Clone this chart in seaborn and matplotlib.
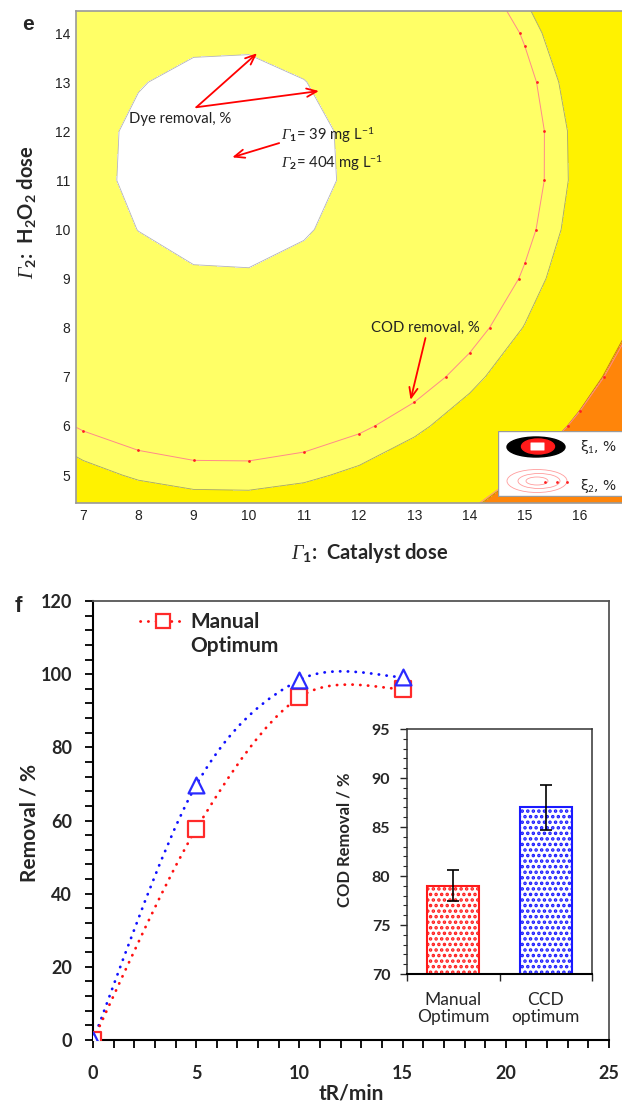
import numpy as np
import matplotlib
matplotlib.use("Agg")
import matplotlib.pyplot as plt
import seaborn as sns
from matplotlib.path import Path
from matplotlib.patches import PathPatch, Ellipse, Rectangle, FancyBboxPatch
from matplotlib.lines import Line2D

sns.set_theme(style="white")
plt.rcParams.update({
    "font.family": ["Lato", "DejaVu Sans"],
    "mathtext.fontset": "custom",
    "mathtext.rm": "Lato",
    "mathtext.bf": "Lato:bold",
    "mathtext.it": "Liberation Serif:italic",
    "mathtext.cal": "Liberation Serif:italic",
    "mathtext.sf": "Lato",
    "hatch.linewidth": 1.7,
})

# ---------------- panel e: response surfaces over the design grid ----------------
catalyst_grid = np.arange(6, 19)      # Γ1 grid nodes
h2o2_grid = np.arange(3, 17)          # Γ2 grid nodes
# quadratic response models: peak value, optimum (Γ1, Γ2), curvature (Γ1, Γ2)
dye_peak, dye_opt, dye_curv = 96.9, (9.6, 11.4), (0.438, 0.372)
cod_peak, cod_opt, cod_curv = 95.9, (9.56, 11.52), (0.3205, 0.2775)
dye_levels = [0, 69.3, 80, 95, 100]
dye_fill = ["#ff850a", "#fff200", "#ffff66", "#ffffff"]
cod_levels = [75, 85]
e_xticks = list(range(7, 17))
e_yticks = list(range(5, 15))

# ---------------- panel f: removal kinetics and COD removal ----------------
time_min = [0, 5, 10, 15]
manual_removal = [0, 57.7, 93.7, 96.0]
ccd_removal = [0, 69.7, 98.4, 99.2]
cod_labels = ["Manual\nOptimum", "CCD\noptimum"]
cod_values = [79.0, 87.0]
cod_errors = [1.6, 2.3]
cod_colors = ["#ff1a1a", "#1a1aff"]

W, H = 622, 1106
fig = plt.figure(figsize=(W / 100, H / 100), dpi=100)


def frac(x0, y0, x1, y1):
    return [x0 / W, 1 - y1 / H, (x1 - x0) / W, (y1 - y0) / H]


GAMMA = r"$\mathcal{Γ}$"

# ======================= panel e =======================
ax = fig.add_axes(frac(76, 11, 622, 503))
G1, G2 = np.meshgrid(catalyst_grid, h2o2_grid)
dye = dye_peak - dye_curv[0] * (G1 - dye_opt[0]) ** 2 - dye_curv[1] * (G2 - dye_opt[1]) ** 2
cod = cod_peak - cod_curv[0] * (G1 - cod_opt[0]) ** 2 - cod_curv[1] * (G2 - cod_opt[1]) ** 2

ax.contourf(G1, G2, dye, levels=dye_levels, colors=dye_fill)
ax.contour(G1, G2, dye, levels=dye_levels[1:4],
           colors=["#c06a20", "#a3a36a", "#b4b4b4"], linewidths=0.6)
cs = ax.contour(G1, G2, cod, levels=cod_levels, colors="#ff8a8a", linewidths=0.7)
for p in cs.get_paths():
    v = p.vertices
    ax.plot(v[:, 0], v[:, 1], ls="none", marker="o", ms=2.0, color="#ff2020", mew=0)

ax.set_xlim(6.87, 16.76)
ax.set_ylim(4.43, 14.45)
ax.set_xticks(e_xticks)
ax.set_yticks(e_yticks)
ax.tick_params(direction="in", length=4, width=0.8, color="#444444", top=True,
               labelsize=10, pad=4, labelcolor="#222222")
for lbl in ax.get_xticklabels() + ax.get_yticklabels():
    lbl.set_fontfamily("Liberation Sans")
for sp in ax.spines.values():
    sp.set_color("#9a9a9a")
    sp.set_linewidth(1.2)
ax.spines["right"].set_visible(False)

arrow = dict(arrowstyle="->,head_length=0.6,head_width=0.25", color="#ff0000",
             lw=1.3, shrinkA=0, shrinkB=0)
note = dict(fontsize=10.7, color="#222222")
ax.annotate("", xy=(10.15, 13.59), xytext=(9.05, 12.49), arrowprops=arrow)
ax.annotate("", xy=(11.27, 12.82), xytext=(9.05, 12.49), arrowprops=arrow)
ax.text(8.76, 12.25, "Dye removal, %", ha="center", va="center", **note)
ax.text(10.58, 11.92, GAMMA + r"$_{\mathbf{1}}$= 39 mg L$^{\mathrm{-1}}$", va="center", **note)
ax.text(10.58, 11.35, GAMMA + r"$_{\mathbf{2}}$= 404 mg L$^{\mathrm{-1}}$", va="center", **note)
ax.annotate("", xy=(9.70, 11.47), xytext=(10.55, 11.76), arrowprops=arrow)
ax.text(13.20, 7.99, "COD removal, %", ha="center", va="center", **note)
ax.annotate("", xy=(12.93, 6.53), xytext=(13.20, 7.79), arrowprops=arrow)

# key for the two response surfaces
key = fig.add_axes(frac(498, 431, 630, 497))
key.set_xlim(498, 630)
key.set_ylim(497, 431)
key.axis("off")
key.add_patch(Rectangle((498.5, 431.5), 131, 65, facecolor="white", edgecolor="#9a9a9a", lw=1))
key.add_patch(Ellipse((536, 447), 58, 20, color="black"))
key.add_patch(Ellipse((538, 446.5), 33, 15, color="#ff1a1a"))
key.add_patch(FancyBboxPatch((531, 443), 13, 7, boxstyle="round,pad=0.5",
                             facecolor="white", edgecolor="none"))
for cx, w, h in [(537, 60, 23), (539, 42, 15), (537, 22, 8)]:
    key.add_patch(Ellipse((cx, 481), w, h, fill=False, edgecolor="#ff9c9c", lw=0.6))
key.plot([545, 557, 567], [482, 482, 482], ls="none", marker="o", ms=2.0,
         color="#ff2020", mew=0)
key.text(580, 447, "ξ$_{1}$, %", va="center", fontsize=10, family=["DejaVu Sans"])
key.text(580, 486, "ξ$_{2}$, %", va="center", fontsize=10, family=["DejaVu Sans"])

fig.text(370 / W, 1 - 553 / H, GAMMA + r"$_{\mathbf{1}}$:  Catalyst dose",
         ha="center", va="center", fontsize=14.5, fontweight="bold")
fig.text(27 / W, 1 - 212 / H,
         GAMMA + r"$_{\mathbf{2}}$:  H$_{\mathbf{2}}$O$_{\mathbf{2}}$ dose",
         ha="center", va="center", rotation=90, fontsize=14.5, fontweight="bold")
fig.text(28 / W, 1 - 24 / H, "e", ha="center", va="center", fontsize=15,
         fontweight="bold", family=["Liberation Sans"])


# ======================= panel f =======================
def smooth_path(xs, ys):
    """Smoothed connecting line (Catmull-Rom as cubic Bezier segments)."""
    pts = np.column_stack([xs, ys]).astype(float)
    ext = np.vstack([pts[0], pts, pts[-1]])
    verts, codes = [pts[0]], [Path.MOVETO]
    for i in range(len(pts) - 1):
        p0, p1, p2, p3 = ext[i], ext[i + 1], ext[i + 2], ext[i + 3]
        verts += [p1 + (p2 - p0) / 6, p2 - (p3 - p1) / 6, p2]
        codes += [Path.CURVE4] * 3
    return Path(verts, codes)


dots = (0, (0.1, 2.7))
bx = fig.add_axes(frac(93, 601, 609, 1040))
for ys, col in [(ccd_removal, "#1010ff"), (manual_removal, "#ff1010")]:
    bx.add_patch(PathPatch(smooth_path(time_min, ys), fill=False, edgecolor=col,
                           lw=2.0, linestyle=dots, capstyle="round", zorder=2))
sns.scatterplot(x=time_min, y=manual_removal, marker="s", s=120, color="#ff2a2a",
                facecolor="white", edgecolor="#ff2a2a", linewidth=1.6, ax=bx, zorder=3)
sns.scatterplot(x=time_min, y=ccd_removal, marker="^", s=130, color="#2a2aff",
                facecolor="white", edgecolor="#2a2aff", linewidth=1.6, ax=bx, zorder=4)
bx.set_xlim(0, 25)
bx.set_ylim(0, 120)
bx.set_xticks(range(0, 26, 5))
bx.set_xticks(range(0, 26), minor=True)
bx.set_yticks(range(0, 121, 20))
bx.set_yticks(range(0, 121, 4), minor=True)
bx.tick_params(which="both", direction="out", length=6, width=1.3, color="black",
               bottom=True, left=True, labelsize=13)
bx.tick_params(axis="x", pad=12)
bx.tick_params(axis="y", pad=9)
for lbl in bx.get_xticklabels() + bx.get_yticklabels():
    lbl.set_fontweight("bold")
for s in ["left", "bottom"]:
    bx.spines[s].set_color("black")
    bx.spines[s].set_linewidth(1.5)
for s in ["top", "right"]:
    bx.spines[s].set_color("#555555")
    bx.spines[s].set_linewidth(1.3)

handle = Line2D([], [], color="#ff1010", lw=2.0, linestyle=dots, dash_capstyle="round",
                marker="s", ms=10, mfc="white", mec="#ff2a2a", mew=1.6)
blank = Line2D([], [], lw=0)
bx.legend([handle, blank], ["Manual", "Optimum"], loc="upper left",
          bbox_to_anchor=(0.055, 1.017), frameon=False, handlelength=2.2,
          handletextpad=0.2, labelspacing=0.2, prop=dict(size=15, weight="bold"))

fig.text(30 / W, 1 - 823 / H, "Removal / %", rotation=90, ha="center", va="center",
         fontsize=15, fontweight="bold")
fig.text(351 / W, 1 - 1094 / H, "tR/min", ha="center", va="center",
         fontsize=15, fontweight="bold")
fig.text(18 / W, 1 - 606 / H, "f", ha="center", va="center", fontsize=16,
         fontweight="bold", family=["Liberation Sans"])

# inset: COD removal at the two optima
ix = fig.add_axes(frac(407, 729, 592, 974))
ix.set_facecolor("white")
sns.barplot(x=cod_labels, y=cod_values, hue=cod_labels, palette=cod_colors,
            width=0.56, errorbar=None, legend=False, ax=ix, zorder=2)
for bar, col in zip(ix.patches, cod_colors):
    bar.set_facecolor("white")
    bar.set_edgecolor(col)
    bar.set_linewidth(1.5)
    bar.set_hatch("...")
ix.errorbar(x=[0, 1], y=cod_values, yerr=cod_errors, fmt="none", ecolor="black",
            elinewidth=1.2, capsize=4, capthick=1.2, zorder=3)
ix.set_ylim(70, 95)
ix.set_xlim(-0.5, 1.5)
ix.set_yticks(range(70, 96, 5))
ix.set_yticks(range(70, 96, 1), minor=True)
ix.set_xticks([-0.5, 0.5, 1.5], minor=True)
ix.tick_params(axis="y", which="major", direction="out", length=5, width=1, left=True,
               labelsize=11.5, pad=7)
ix.tick_params(axis="y", which="minor", direction="out", length=3, width=0.8, left=True)
ix.tick_params(axis="x", which="major", length=0, labelsize=12.5, pad=13)
ix.tick_params(axis="x", which="minor", direction="out", length=5, width=1, bottom=True)
for lbl in ix.get_yticklabels():
    lbl.set_fontweight("bold")
for lbl in ix.get_xticklabels():
    lbl.set_linespacing(1.05)
ix.set_xlabel("")
for s in ix.spines.values():
    s.set_color("#333333")
    s.set_linewidth(1.1)
ix.spines["bottom"].set_color("black")
ix.spines["bottom"].set_linewidth(1.5)
fig.text(345 / W, 1 - 840 / H, "COD Removal / %", rotation=90, ha="center", va="center",
         fontsize=12, fontweight="bold")

fig.savefig("out.png", dpi=100)
